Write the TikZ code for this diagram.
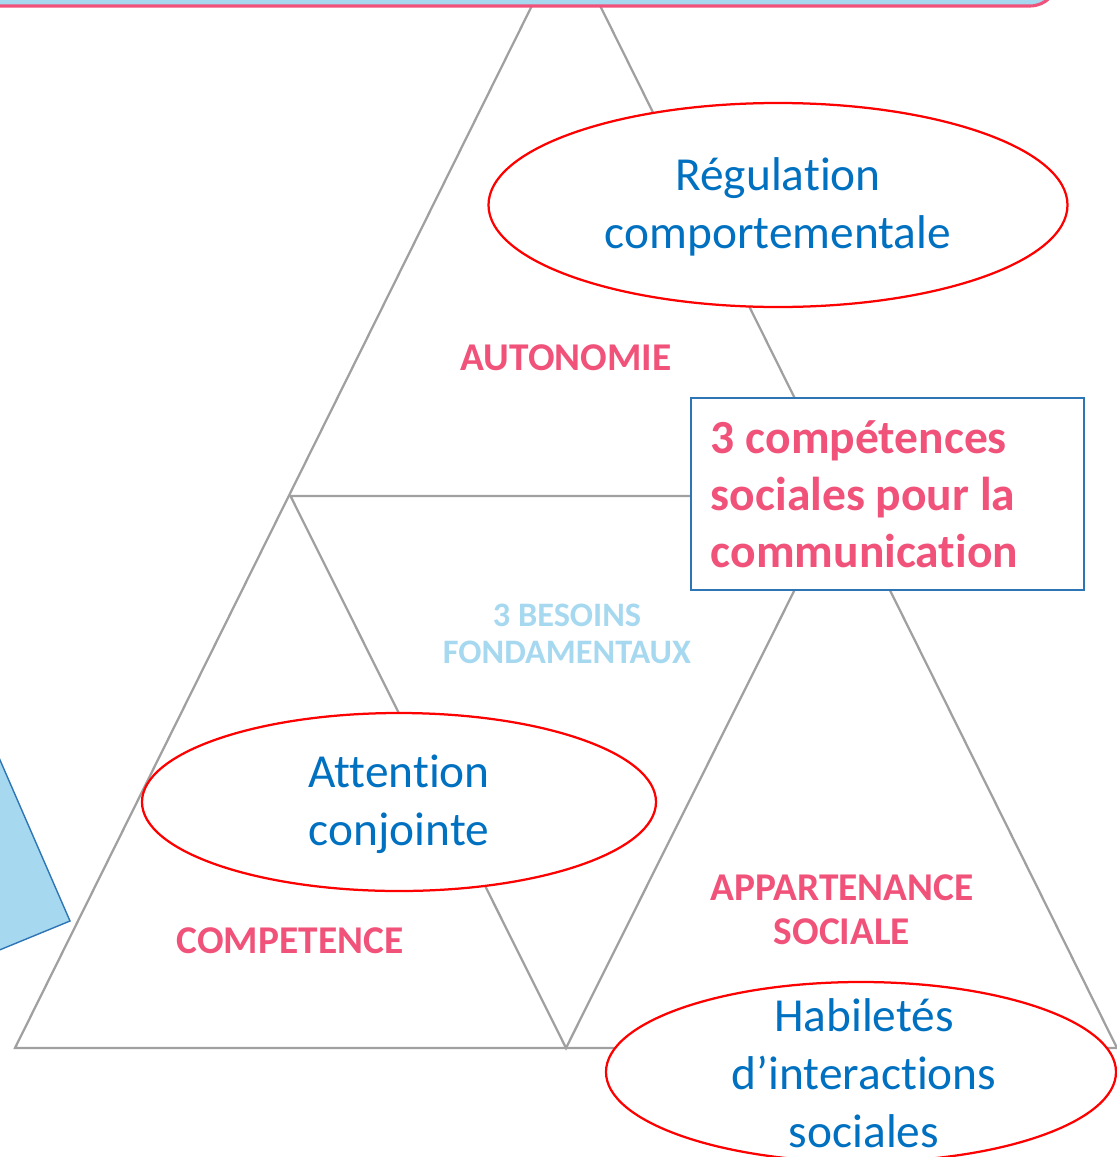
\documentclass[tikz,border=0pt]{standalone}
\usepackage{fontspec}
\setmainfont{Carlito}[Ligatures=NoCommon]
\definecolor{pinktxt}{RGB}{240,82,122}
\definecolor{bluetxt}{RGB}{0,112,192}
\definecolor{lightblue}{RGB}{166,216,240}
\definecolor{boxblue}{RGB}{46,117,182}
\definecolor{linegray}{RGB}{160,160,160}
\tikzset{
  edge/.style={linegray, line width=1.6pt},
  ring/.style={draw=red, fill=white, line width=1.6pt},
  skill/.style={text=bluetxt, align=center, inner sep=0pt, font=\fontsize{33.7}{41.3}\selectfont},
  need/.style={text=pinktxt, align=center, inner sep=0pt, font=\bfseries\fontsize{28}{31.3}\selectfont}
}
\begin{document}
\begin{tikzpicture}[x=0.025cm, y=-0.025cm]
        \clip (0,0) rectangle (1117,1157);
        % triangle corners
        \coordinate (top) at (566,-63);
        \coordinate (bl) at (15,1048);
        \coordinate (br) at (1117,1048);
        \coordinate (ml) at (290.5,496);
        \coordinate (mr) at (841.5,496);
        \coordinate (mb) at (566,1048);
        \draw[edge] (top) -- (bl) -- (br) -- cycle;
        \draw[edge] (ml) -- (mr) -- (mb) -- cycle;
        % shapes cut by the page
        \draw[fill=lightblue, draw=boxblue, line width=1pt] (-20,714) -- (70,921) -- (-20,958) -- cycle;
        \draw[fill=lightblue, draw=pinktxt, line width=2.2pt, rounded corners=20] (-40,-120) rectangle (1058,6);
        % skills
        \draw[ring] (778,205) ellipse [x radius=289.5, y radius=102];
        \draw[ring] (399,802) ellipse [x radius=257, y radius=89];
        \draw[ring] (861,1072) ellipse [x radius=255, y radius=90];
        \node[skill] (regul) at (778,207) {Régulation\\comportementale};
        \node[skill] (attent) at (399,804) {Attention\\conjointe};
        \node[skill] (habil) at (864,1073) {Habiletés\\d’interactions\\sociales};
        \node[draw=boxblue, line width=1pt, fill=white, text=pinktxt, align=flush left,
              font=\bfseries\fontsize{33.8}{40.5}\selectfont, text width=8.825cm,
              inner xsep=0.5cm, inner ysep=0pt, minimum height=4.8cm] (skills) at (887.5,494)
              {3 compétences\\sociales pour la\\communication};
        % needs
        \node[need] (auto) at (566,358) {AUTONOMIE};
        \node[need] (comp) at (290,941) {COMPETENCE};
        \node[need] (appart) at (842,910) {APPARTENANCE\\SOCIALE};
        \node[need, text=lightblue, font=\bfseries\fontsize{24.4}{26.5}\selectfont] (besoins) at (567,634) {3 BESOINS\\FONDAMENTAUX};
    \end{tikzpicture}
\end{document}
